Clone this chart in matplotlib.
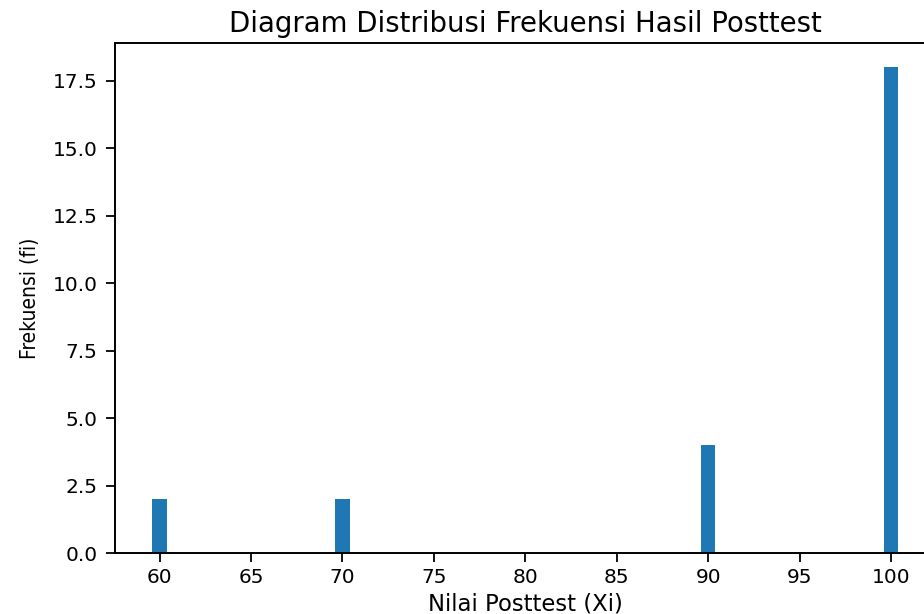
import matplotlib
matplotlib.use("Agg")
import matplotlib.pyplot as plt

nilai = [60, 70, 90, 100]
frekuensi = [2, 2, 4, 18]
xticks = list(range(60, 101, 5))
yticks = [0, 2.5, 5, 7.5, 10, 12.5, 15, 17.5]
ytick_labels = ['0.0', '2.5', '5.0', '7.5', '10.0', '12.5', '15.0', '17.5']

fig = plt.figure(figsize=(9.24, 6.14), dpi=100)
ax = fig.add_axes([0.1245, 0.0993, 0.888, 0.8307])
ax.bar(nilai, frekuensi, width=0.8, color='#1f77b4')
ax.set_xticks(xticks)
ax.set_yticks(yticks)
ax.set_yticklabels(ytick_labels)
ax.tick_params(labelsize=14.5, length=6.5, width=1.3)
ax.tick_params(axis='x', pad=4)
ax.tick_params(axis='y', pad=6)
ax.set_title('Diagram Distribusi Frekuensi Hasil Posttest', fontsize=19.8, pad=8)
ax.set_xlabel('Nilai Posttest (Xi)', fontsize=16.4, labelpad=4)
ax.set_ylabel('Frekuensi (fi)', fontsize=15, fontstretch='condensed', labelpad=9)
for s in ax.spines.values():
    s.set_linewidth(1.4)
fig.savefig('out.png', dpi=100)
